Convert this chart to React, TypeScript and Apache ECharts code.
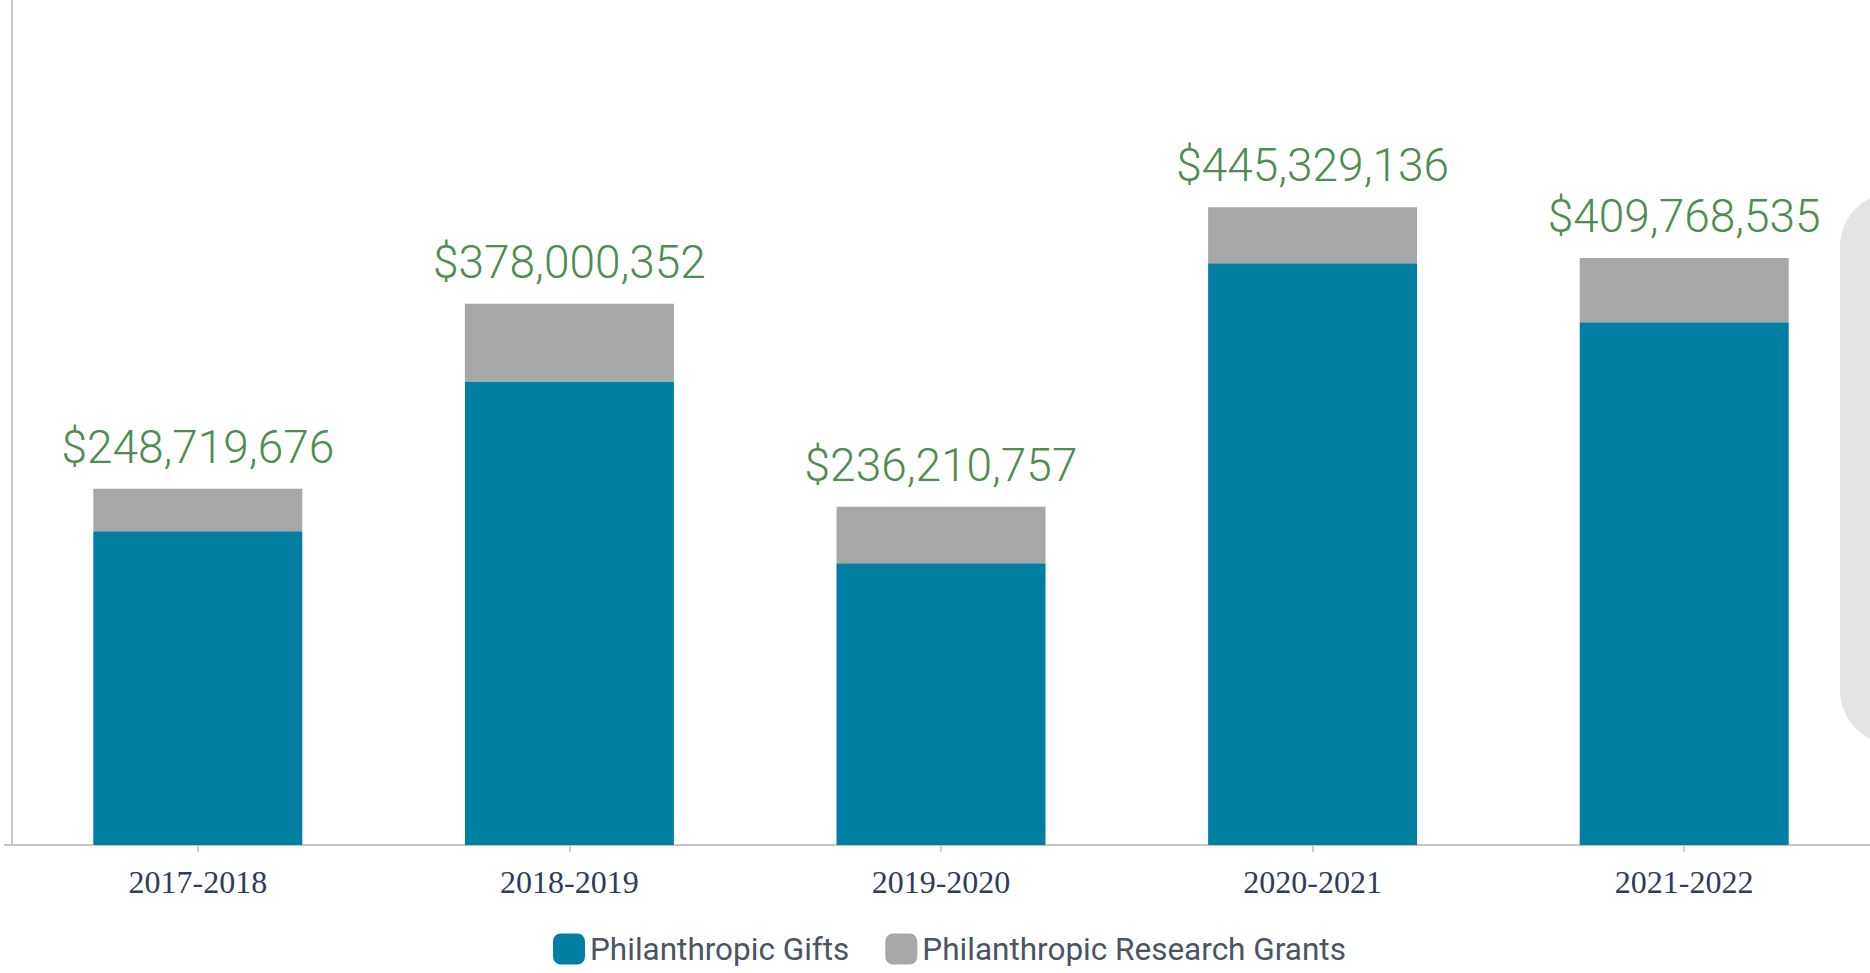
import React, { useEffect, useRef } from "react";
import * as echarts from "echarts";

const categories = ["2017-2018", "2018-2019", "2019-2020", "2020-2021", "2021-2022"];
// values in millions of dollars
const giftsValues = [219.0, 323.7, 196.7, 406.2, 365.0];
const grantsValues = [29.7, 54.3, 39.5, 39.1, 44.8];
const totalLabels = ["$248,719,676", "$378,000,352", "$236,210,757", "$445,329,136", "$409,768,535"];
const seriesNames = ["Philanthropic Gifts", "Philanthropic Research Grants"];

const BLUE = "#017fa3";
const GRAY = "#a6a7a9";

export default function App() {
  const ref = useRef<HTMLDivElement>(null);
  useEffect(() => {
    if (!ref.current) return;
    const chart = echarts.init(ref.current, null, { renderer: "svg" });
    chart.setOption({
      animation: false,
      backgroundColor: "#ffffff",
      grid: { left: 12, right: -2, top: 0, bottom: 128, containLabel: false },
      legend: {
        data: seriesNames,
        left: 548,
        top: 928,
        itemWidth: 32,
        itemHeight: 31,
        itemGap: 36,
        icon: "roundRect",
        textStyle: { fontFamily: "Roboto, sans-serif", fontSize: 31.5, color: "#4a5462" },
      },
      xAxis: {
        type: "category",
        data: categories,
        axisLine: { show: true, lineStyle: { color: "#c6c6c6", width: 2 } },
        axisTick: { show: true, alignWithLabel: true, length: 7, lineStyle: { color: "#bdbdbd", width: 1.5 } },
        axisLabel: {
          margin: 21,
          fontFamily: "Liberation Serif, Times New Roman, serif",
          fontSize: 32,
          color: "#2f3b5c",
        },
      },
      yAxis: {
        type: "value",
        min: 0,
        max: 590,
        axisLine: { show: true, lineStyle: { color: "#c6c6c6", width: 2 } },
        axisTick: { show: false },
        axisLabel: { show: false },
        splitLine: { show: false },
      },
      series: [
        {
          name: seriesNames[0],
          type: "bar",
          stack: "total",
          barWidth: 209,
          data: giftsValues,
          itemStyle: { color: BLUE },
        },
        {
          name: seriesNames[1],
          type: "bar",
          stack: "total",
          barWidth: 209,
          data: grantsValues,
          itemStyle: { color: GRAY },
          label: {
            show: true,
            position: "top",
            distance: 19,
            fontFamily: "Roboto, sans-serif",
            fontWeight: 300,
            fontSize: 46,
            color: "#4e8c52",
            formatter: (p: any) => totalLabels[p.dataIndex],
          },
        },
      ],
      graphic: [
        {
          type: "line",
          shape: { x1: 4, y1: 845, x2: 13, y2: 845 },
          style: { stroke: "#c6c6c6", lineWidth: 2 },
        },
        {
          type: "rect",
          shape: { x: 1840, y: 192, width: 120, height: 553, r: 55 },
          style: { fill: "#e3e4e4" },
        },
      ],
    });
    return () => chart.dispose();
  }, []);
  return (
    <div
      ref={ref}
      style={{ position: "fixed", left: 0, top: 0, width: 1870, height: 973 }}
    />
  );
}
